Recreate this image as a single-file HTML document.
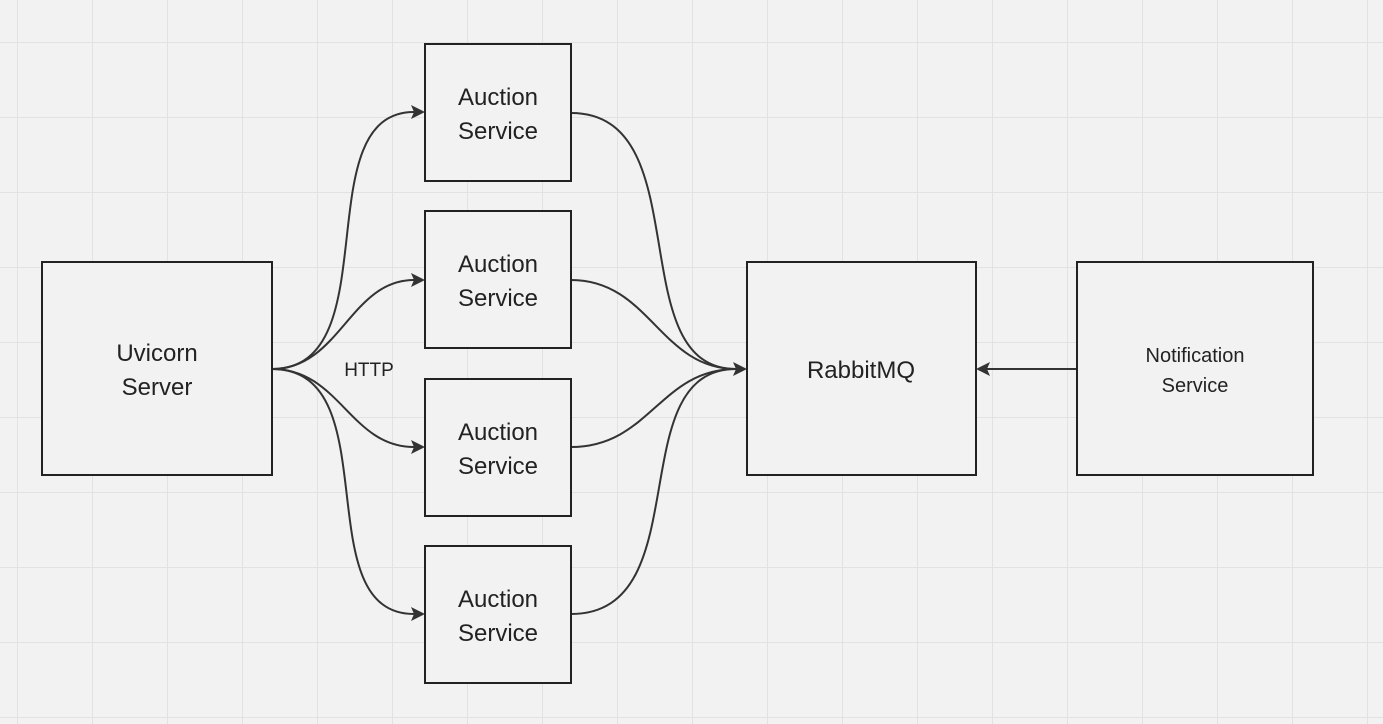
<!DOCTYPE html>
<html><head><meta charset="utf-8"><style>
html,body{margin:0;padding:0;background:#f2f2f2;}
svg{display:block;}
text{font-family:"Liberation Sans",sans-serif;fill:#222;}
</style></head><body>
<svg width="1383" height="724" viewBox="0 0 1383 724" xmlns="http://www.w3.org/2000/svg">
<defs>
<pattern id="g" x="17" y="42" width="75" height="75" patternUnits="userSpaceOnUse">
<path d="M0 0V75M0 0H75" stroke="#e2e2e2" stroke-width="2" fill="none"/>
</pattern>
</defs>
<rect width="1383" height="724" fill="#f2f2f2"/>
<rect width="1383" height="724" fill="url(#g)"/>
<g fill="none" stroke="#333" stroke-width="2">
<path d="M272 369C390 369 305 112 414 112"/>
<path d="M272 369C340 369 350 280 414 280"/>
<path d="M272 369C340 369 350 447 414 447"/>
<path d="M272 369C390 369 305 614 414 614"/>
<path d="M571 113C700 113 620 369 736 369"/>
<path d="M571 280C650 280 660 369 736 369"/>
<path d="M571 447C650 447 660 369 736 369"/>
<path d="M571 614C700 614 620 369 736 369"/>
<path d="M1077 369H987"/>
</g>
<g fill="#333">
<path d="M425 112L411 105L414 112L411 119Z"/>
<path d="M425 280L411 273L414 280L411 287Z"/>
<path d="M425 447L411 440L414 447L411 454Z"/>
<path d="M425 614L411 607L414 614L411 621Z"/>
<path d="M747 369L733 362L736 369L733 376Z"/>
<path d="M976 369L990 362L987 369L990 376Z"/>
</g>
<g fill="#f2f2f2" stroke="#222" stroke-width="2">
<rect x="42" y="262" width="230" height="213"/>
<rect x="425" y="44" width="146" height="137"/>
<rect x="425" y="211" width="146" height="137"/>
<rect x="425" y="379" width="146" height="137"/>
<rect x="425" y="546" width="146" height="137"/>
<rect x="747" y="262" width="229" height="213"/>
<rect x="1077" y="262" width="236" height="213"/>
</g>
<g font-size="24" text-anchor="middle">
<text x="157" y="361">Uvicorn</text><text x="157" y="395">Server</text>
<text x="498" y="105">Auction</text><text x="498" y="139">Service</text>
<text x="498" y="272">Auction</text><text x="498" y="306">Service</text>
<text x="498" y="440">Auction</text><text x="498" y="474">Service</text>
<text x="498" y="607">Auction</text><text x="498" y="641">Service</text>
<text x="861" y="378">RabbitMQ</text>
<text x="1195" y="362" font-size="20">Notification</text>
<text x="1195" y="392" font-size="20">Service</text>
<text x="369" y="376" font-size="19">HTTP</text>
</g>
</svg>
</body></html>
